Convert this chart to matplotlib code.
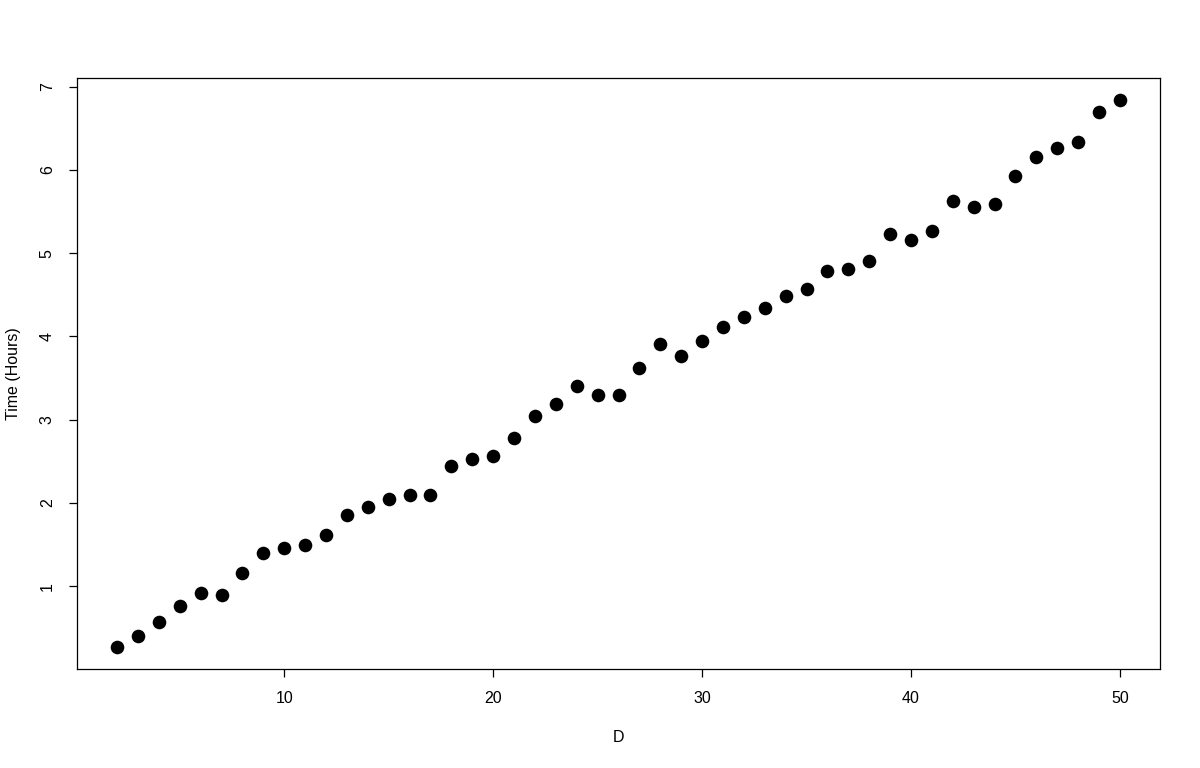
import matplotlib
matplotlib.use("Agg")
import matplotlib.pyplot as plt

plt.rcParams['font.family'] = ['Liberation Sans', 'DejaVu Sans']

D = list(range(2, 51))
hours = [0.27, 0.40, 0.57, 0.76, 0.92, 0.90, 1.16, 1.40, 1.46, 1.50,
         1.62, 1.86, 1.95, 2.05, 2.10, 2.10, 2.45, 2.53, 2.57, 2.78,
         3.04, 3.19, 3.40, 3.30, 3.30, 3.62, 3.91, 3.77, 3.95, 4.11,
         4.23, 4.34, 4.49, 4.57, 4.78, 4.81, 4.90, 5.23, 5.16, 5.26,
         5.63, 5.56, 5.59, 5.93, 6.15, 6.26, 6.33, 6.69, 6.84]
xticks = [10, 20, 30, 40, 50]
yticks = [1, 2, 3, 4, 5, 6, 7]

fig = plt.figure(figsize=(12, 7.68), dpi=100)
ax = fig.add_axes([77/1200, 1 - 669/768, (1160-77)/1200, (669-78)/768])

ax.plot(D, hours, 'o', color='black', markersize=9.8, markeredgewidth=0)

def ext(lo, hi):
    r = hi - lo
    return lo - 0.04*r, hi + 0.04*r

ax.set_xlim(*ext(min(D), max(D)))
ax.set_ylim(*ext(min(hours), max(hours)))
ax.set_xticks(xticks)
ax.set_yticks(yticks)
ax.tick_params(axis='both', direction='out', length=6, width=0.9,
               labelsize=11.5, pad=10, colors='black')
for lab in ax.get_yticklabels():
    lab.set_rotation(90)
    lab.set_va('center')
for s in ax.spines.values():
    s.set_linewidth(0.9)

ax.set_xlabel('D', fontsize=11.5, va='center')
ax.xaxis.set_label_coords(0.5, (669 - 738) / 591)
ax.set_ylabel('Time (Hours)', fontsize=11.5, va='center')
ax.yaxis.set_label_coords((14 - 77) / 1083, 0.5)

fig.savefig('out.png', dpi=100)
